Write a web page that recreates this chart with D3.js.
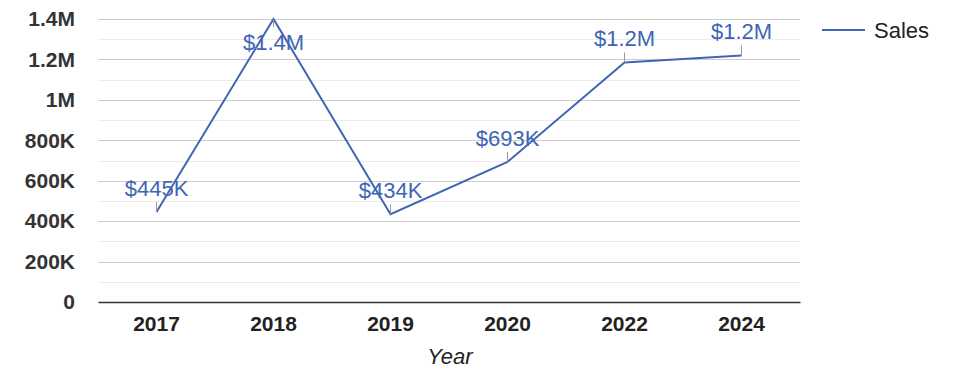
<!DOCTYPE html>
<html>
<head>
<meta charset="utf-8">
<script src="https://cdn.jsdelivr.net/npm/d3@7"></script>
<style>
    body { margin: 0; background: #fff; }
    text { font-family: "Liberation Sans", Arial, sans-serif; }
</style>
</head>
<body>
<div id="chart"></div>
<script>
// Chart data
var years = ["2017", "2018", "2019", "2020", "2022", "2024"];
var sales = [445000, 1400000, 434000, 693000, 1185000, 1220000];
var labels = ["$445K", "$1.4M", "$434K", "$693K", "$1.2M", "$1.2M"];
var yTicks = [0, 200000, 400000, 600000, 800000, 1000000, 1200000, 1400000];
var yTickLabels = ["0", "200K", "400K", "600K", "800K", "1M", "1.2M", "1.4M"];
var seriesName = "Sales";

function init() {
    var w = 975;
    var h = 378;
    var margin = { top: 19, right: 175, bottom: 76, left: 98 };
    var lineColor = "#4065b5";

    var svg = d3.select("#chart")
        .append("svg")
        .attr("width", w)
        .attr("height", h);

    var x = d3.scaleBand()
        .domain(years)
        .range([margin.left, w - margin.right]);

    var y = d3.scaleLinear()
        .domain([0, 1400000])
        .range([h - margin.bottom, margin.top]);

    // Minor gridlines (halfway between major ones)
    var minor = yTicks.slice(1).map(function (t) { return t - 100000; });
    svg.append("g")
        .selectAll("line")
        .data(minor)
        .enter()
        .append("line")
        .attr("x1", margin.left)
        .attr("x2", w - margin.right)
        .attr("y1", d => Math.round(y(d)) + 0.5)
        .attr("y2", d => Math.round(y(d)) + 0.5)
        .style("stroke", "#ebebeb");

    // Major gridlines
    svg.append("g")
        .selectAll("line")
        .data(yTicks.slice(1))
        .enter()
        .append("line")
        .attr("x1", margin.left)
        .attr("x2", w - margin.right)
        .attr("y1", d => Math.round(y(d)) + 0.5)
        .attr("y2", d => Math.round(y(d)) + 0.5)
        .style("stroke", "#cccccc");

    // Y axis labels
    var yAxis = d3.axisLeft(y)
        .tickValues(yTicks)
        .tickSize(0)
        .tickPadding(23)
        .tickFormat((d, i) => yTickLabels[i]);
    svg.append("g")
        .attr("transform", "translate(" + margin.left + ",0)")
        .call(yAxis)
        .call(g => g.select(".domain").remove())
        .selectAll("text")
        .style("font-size", "21px")
        .style("font-weight", "bold")
        .style("fill", "#333")
        .style("font-family", "Liberation Sans, Arial, sans-serif");

    // X axis
    var xAxis = d3.axisBottom(x).tickSize(0).tickPadding(14);
    var gx = svg.append("g")
        .attr("transform", "translate(0," + (h - margin.bottom) + ")")
        .call(xAxis);
    gx.select(".domain").style("stroke", "#333").style("stroke-width", 1.5);
    gx.selectAll("text")
        .style("font-size", "21px")
        .style("font-weight", "bold")
        .style("fill", "#222")
        .style("font-family", "Liberation Sans, Arial, sans-serif");

    // Axis title
    svg.append("text")
        .attr("x", 450)
        .attr("y", 364)
        .attr("text-anchor", "middle")
        .style("font-size", "22px")
        .style("font-style", "italic")
        .style("fill", "#222")
        .text("Year");

    // Line
    var line = d3.line()
        .x((d, i) => x(years[i]) + x.bandwidth() / 2)
        .y(d => y(d));
    svg.append("path")
        .datum(sales)
        .attr("d", line)
        .style("fill", "none")
        .style("stroke", lineColor)
        .style("stroke-width", 2);

    // Data labels with short leader lines
    var lab = svg.append("g");
    sales.forEach(function (v, i) {
        var px = x(years[i]) + x.bandwidth() / 2;
        var py = y(v);
        var ly = py - 16; // baseline offset above point
        var inside = false;
        if (ly - 15 < margin.top) { ly = py + 31; inside = true; }
        lab.append("line")
            .attr("x1", px)
            .attr("x2", px)
            .attr("y1", py)
            .attr("y2", inside ? py + 8 : py - 10)
            .style("stroke", "#999")
            .style("stroke-width", 1);
        lab.append("text")
            .attr("x", px)
            .attr("y", ly)
            .attr("text-anchor", "middle")
            .style("font-size", "22px")
            .style("fill", "#4065b5")
            .text(labels[i]);
    });

    // Legend
    var lg = svg.append("g").attr("transform", "translate(822,30)");
    lg.append("line")
        .attr("x1", 0).attr("x2", 43)
        .style("stroke", lineColor)
        .style("stroke-width", 2);
    lg.append("text")
        .attr("x", 52)
        .attr("y", 8)
        .style("font-size", "22px")
        .style("fill", "#222")
        .text(seriesName);
}

window.onload = init;
</script>
</body>
</html>
